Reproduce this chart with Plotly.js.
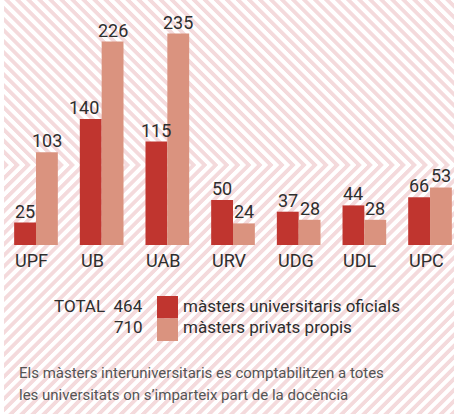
<!DOCTYPE html>
<html>
<head>
<meta charset="utf-8">
<script src="https://cdn.plot.ly/plotly-3.0.1.min.js"></script>
<style>
  html, body { margin: 0; padding: 0; background: #fff; }
  #wrap { position: relative; width: 454px; height: 414px; overflow: hidden; }
  #bgTop { position: absolute; left: 4px; top: 0; width: 450px; height: 165px;
    background: repeating-linear-gradient(45deg, #f4dadc 0px, #f4dadc 3px, #ffffff 3.8px, #ffffff 7px, #f4dadc 7.8px); }
  #bgBot { position: absolute; left: 4px; top: 165px; width: 450px; height: 249px;
    background: repeating-linear-gradient(135deg, #f4dadc 0px, #f4dadc 3px, #ffffff 3.8px, #ffffff 7px, #f4dadc 7.8px); }
  #chart { position: absolute; left: 0; top: 0; width: 454px; height: 414px; }
</style>
</head>
<body>
<div id="wrap">
  <div id="bgTop"></div>
  <div id="bgBot"></div>
  <div id="chart"></div>
</div>
<script>
// Data
var universities = ['UPF', 'UB', 'UAB', 'URV', 'UDG', 'UDL', 'UPC'];
var oficialsHeights = [25, 140, 115, 50, 37, 44, 53];
var privatsHeights  = [103, 226, 235, 24, 28, 28, 64];
var oficialsLabels  = ['25', '140', '115', '50', '37', '44', '66'];
var privatsLabels   = ['103', '226', '235', '24', '28', '28', '53'];
var totalOficials = 464;
var totalPrivats = 710;
var seriesNames = ['màsters universitaris oficials', 'màsters privats propis'];
var footnote = ['Els màsters interuniversitaris es comptabilitzen a totes',
                'les universitats on s\u2019imparteix part de la docència'];

// Layout / style settings
var W = 454, H = 414, plotH = 245;
var darkRed = '#c0352f', salmon = '#da937f';
var FONT = 'Roboto, "Liberation Sans", sans-serif';
var TXT = '#2e2e2e';
var darkLabelNudge = [0, -7, 0, 0, 0, 0, 0];
var lightLabelNudge = [0, 0, 0, 0, 0, 0, 0];
function px(x) { return x / W; }
function py(y) { return (plotH - y) / plotH; }

var traces = [
  { type: 'bar', name: seriesNames[0], x: universities, y: oficialsHeights,
    marker: { color: darkRed }, hoverinfo: 'none' },
  { type: 'bar', name: seriesNames[1], x: universities, y: privatsHeights,
    marker: { color: salmon }, hoverinfo: 'none' }
];

var annotations = [];
universities.forEach(function (u, i) {
  annotations.push({ x: u, xref: 'x', y: 0, yref: 'paper', yanchor: 'top',
    xanchor: 'left', xshift: -23, yshift: -3, showarrow: false, text: u,
    font: { size: 18, color: TXT, family: FONT } });
  annotations.push({ x: u, xref: 'x', y: oficialsHeights[i], yref: 'y', yanchor: 'bottom',
    xanchor: 'center', xshift: -11 + darkLabelNudge[i], yshift: -1, showarrow: false,
    text: oficialsLabels[i], font: { size: 18, color: TXT, family: FONT } });
  annotations.push({ x: u, xref: 'x', y: privatsHeights[i], yref: 'y', yanchor: 'bottom',
    xanchor: 'center', xshift: 11 + lightLabelNudge[i], yshift: -1, showarrow: false,
    text: privatsLabels[i], font: { size: 18, color: TXT, family: FONT } });
});
annotations.push({ x: px(145), y: py(306), xref: 'paper', yref: 'paper', xanchor: 'right',
  yanchor: 'middle', showarrow: false, text: 'TOTAL&nbsp;&nbsp;' + totalOficials,
  font: { size: 17, color: TXT, family: FONT } });
annotations.push({ x: px(145), y: py(327), xref: 'paper', yref: 'paper', xanchor: 'right',
  yanchor: 'middle', showarrow: false, text: String(totalPrivats),
  font: { size: 17, color: TXT, family: FONT } });
annotations.push({ x: px(181), y: py(306), xref: 'paper', yref: 'paper', xanchor: 'left',
  yanchor: 'middle', showarrow: false, text: seriesNames[0],
  font: { size: 17, color: TXT, family: FONT } });
annotations.push({ x: px(181), y: py(327), xref: 'paper', yref: 'paper', xanchor: 'left',
  yanchor: 'middle', showarrow: false, text: seriesNames[1],
  font: { size: 17, color: TXT, family: FONT } });
annotations.push({ x: px(17), y: py(373), xref: 'paper', yref: 'paper', xanchor: 'left',
  yanchor: 'middle', showarrow: false, text: footnote[0],
  font: { size: 15, color: '#555555', family: FONT } });
annotations.push({ x: px(17), y: py(395), xref: 'paper', yref: 'paper', xanchor: 'left',
  yanchor: 'middle', showarrow: false, text: footnote[1],
  font: { size: 15, color: '#555555', family: FONT } });

var shapes = [
  { type: 'rect', xref: 'paper', yref: 'paper', x0: px(157), x1: px(178), y0: py(296), y1: py(318.5),
    fillcolor: darkRed, line: { width: 0 } },
  { type: 'rect', xref: 'paper', yref: 'paper', x0: px(157), x1: px(178), y0: py(318.5), y1: py(341),
    fillcolor: salmon, line: { width: 0 } }
];

var layout = {
  width: W, height: H,
  margin: { l: 0, r: 0, t: 0, b: H - plotH, pad: 0 },
  paper_bgcolor: 'rgba(0,0,0,0)', plot_bgcolor: 'rgba(0,0,0,0)',
  barmode: 'group', bargap: 0.335, bargroupgap: 0,
  showlegend: false,
  font: { family: FONT },
  xaxis: { range: [-0.548, 6.365], showgrid: false, zeroline: false, showline: false,
    showticklabels: false, ticks: '', fixedrange: true },
  yaxis: { range: [0, plotH / 0.9], showgrid: false, zeroline: false, showline: false,
    showticklabels: false, ticks: '', fixedrange: true },
  annotations: annotations,
  shapes: shapes
};

Plotly.newPlot('chart', traces, layout, { staticPlot: true, displayModeBar: false });
</script>
</body>
</html>
